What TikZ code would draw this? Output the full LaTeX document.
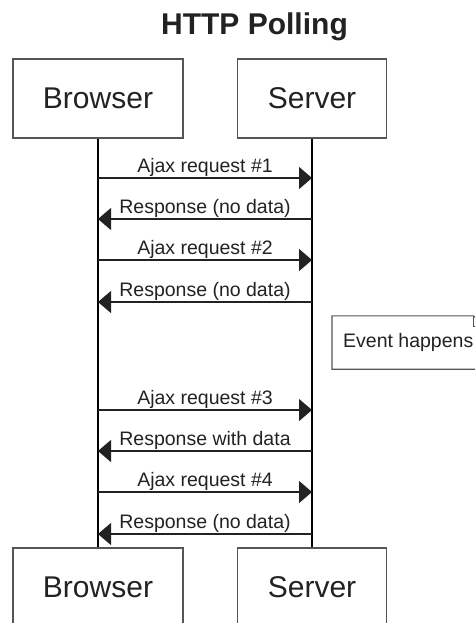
\documentclass[tikz,border=0pt]{standalone}
\usepackage{fontspec}
\setmainfont{Liberation Sans}
\usetikzlibrary{arrows.meta}
\definecolor{boxgray}{HTML}{555555}
\definecolor{inkgray}{HTML}{222222}

\begin{document}
\begin{tikzpicture}[x=1pt,y=-1pt]
	\useasboundingbox (0,0) rectangle (475,623);
	\clip (0,0) rectangle (475,623);

	\tikzstyle{actor} = [rectangle,draw=boxgray,line width=1.3pt,inner xsep=30pt,minimum height=79pt,text=inkgray,font=\fontsize{30}{36}\selectfont]
	\tikzstyle{msg} = [line width=1.3pt,draw=inkgray,-{Triangle[length=13pt,width=22pt]}]
	\tikzstyle{lbl} = [anchor=base,yshift=6pt,inner sep=0pt,text=inkgray,font=\fontsize{19.5}{23}\selectfont]
	\tikzstyle{life} = [line width=1.2pt,draw=black]

	\node[anchor=base,font=\bfseries\fontsize{30}{36}\selectfont,text=inkgray] (title) at (254.5,35) {HTTP Polling};

	\node[actor] (browser) at (98,98.5) {Browser};
	\node[actor] (server) at (312,98.5) {Server};
	\node[actor] (browser2) at (98,587.5) {Browser};
	\node[actor] (server2) at (312,587.5) {Server};

	\draw[life] (browser.south) -- (browser2.north);
	\draw[life] (server.south) -- (server2.north);

	% points on the lifelines
	\coordinate (b1) at (98,178);  \coordinate (s1) at (312,178);
	\coordinate (b2) at (98,219);  \coordinate (s2) at (312,219);
	\coordinate (b3) at (98,260);  \coordinate (s3) at (312,260);
	\coordinate (b4) at (98,302);  \coordinate (s4) at (312,302);
	\coordinate (b5) at (98,410);  \coordinate (s5) at (312,410);
	\coordinate (b6) at (98,451);  \coordinate (s6) at (312,451);
	\coordinate (b7) at (98,492);  \coordinate (s7) at (312,492);
	\coordinate (b8) at (98,534);  \coordinate (s8) at (312,534);

	\draw[msg] (b1) -- node[lbl]{Ajax request \#1} (s1);
	\draw[msg] (s2) -- node[lbl]{Response (no data)} (b2);
	\draw[msg] (b3) -- node[lbl]{Ajax request \#2} (s3);
	\draw[msg] (s4) -- node[lbl]{Response (no data)} (b4);
	\draw[msg] (b5) -- node[lbl]{Ajax request \#3} (s5);
	\draw[msg] (s6) -- node[lbl]{Response with data} (b6);
	\draw[msg] (b7) -- node[lbl]{Ajax request \#4} (s7);
	\draw[msg] (s8) -- node[lbl]{Response (no data)} (b8);

	%\node[actor] (note) at (400,342) {Event happens};
	\node[anchor=west,inner xsep=11pt,minimum height=53pt,text=inkgray,font=\fontsize{19.5}{23}\selectfont] (event) at (332,342.5) {Event happens};
	\draw[boxgray,line width=1.1pt] (event.south west) -- (event.north west) -- ([xshift=-11pt]event.north east) -- ([yshift=-11pt]event.north east) -- (event.south east) -- cycle;
	\draw[boxgray,line width=1.1pt] ([xshift=-11pt]event.north east) |- ([yshift=-11pt]event.north east);
\end{tikzpicture}
\end{document}
